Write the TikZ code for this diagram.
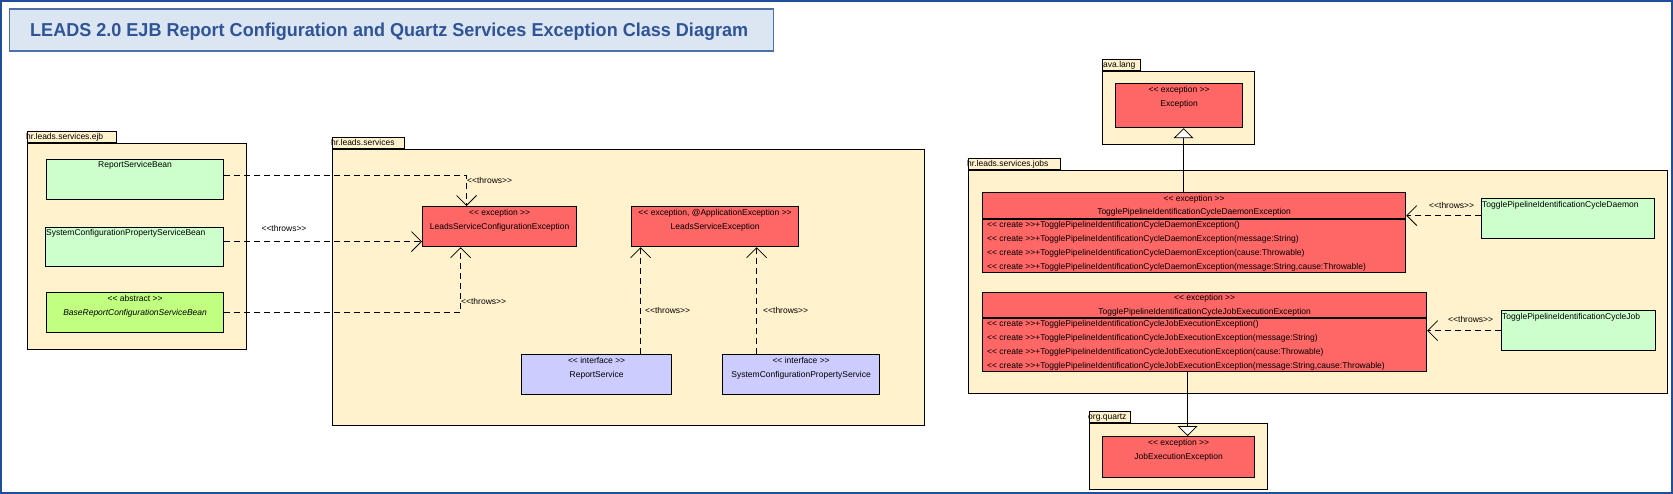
\documentclass[tikz,border=0pt]{standalone}
\usepackage{fontspec}
\setmainfont{Liberation Sans}[Ligatures=TeXOff]
\usepackage{graphicx}
\usepackage{tikz}
\usetikzlibrary{arrows.meta,positioning,calc}

\definecolor{pkgcol}{HTML}{FFF2CC}
\definecolor{exccol}{HTML}{FF6666}
\definecolor{beancol}{HTML}{CCFFCC}
\definecolor{abscol}{HTML}{C0FF80}
\definecolor{ifcol}{HTML}{CCCCFF}
\definecolor{titlefill}{HTML}{DCE6F2}
\definecolor{titledraw}{HTML}{4F6FA8}
\definecolor{titletext}{HTML}{2F5597}
\definecolor{framecol}{HTML}{1F4F99}

\tikzset{
  pkg/.style={draw, fill=pkgcol, line width=1.2pt, inner sep=0, anchor=north west},
  pkgtab/.style={draw, fill=pkgcol, line width=1.2pt, inner sep=0, anchor=south west, minimum height=11pt},
  cls/.style={draw, line width=1.2pt, inner sep=0, anchor=north west},
  txt/.style={inner sep=0, font=\fontsize{8.5}{10}\selectfont, text height=6pt, text depth=1.5pt},
  throws/.style={line width=1.2pt, dash pattern=on 6pt off 4pt,
    -{Straight Barb[length=10pt,width=20pt,line width=0.8pt]}},
  gen/.style={line width=1.2pt, -{Triangle[length=10pt,width=20pt,fill=white,line width=0.8pt]}}
}

\begin{document}
\begin{tikzpicture}[x=1pt, y=-1pt]
  \useasboundingbox (0,0) rectangle (1673,494);
  \draw[framecol, line width=2.4pt] (1.2,1.2) rectangle (1671.8,492.8);

  % title
  \node[draw=titledraw, fill=titlefill, line width=1.2pt, anchor=north west,
    minimum width=764pt, minimum height=42pt, inner sep=0] (title) at (8.5,8.5) {};
  \node[anchor=base west, inner sep=0, text=titletext, font=\bfseries\fontsize{18.7}{22}\selectfont]
    (titletxt) at (30,36.7)
    {\scalebox{0.965}[1]{LEADS 2.0 EJB Report Configuration and Quartz Services Exception Class Diagram}};

  % hr.leads.services.ejb
  \node[pkg, minimum width=219pt, minimum height=206pt] (ejb) at (27,143) {};
  \node[pkgtab, minimum width=89pt] (ejbtab) at (ejb.north west) {};
  \node[txt, anchor=west] (ejbname) at ($(ejbtab.west)+(-1,0)$) {hr.leads.services.ejb};

  \node[cls, fill=beancol, minimum width=177pt, minimum height=40pt] (rsb) at (46,159) {};
  \node[txt] (rsbname) at ($(rsb.north)+(0,6)$) {ReportServiceBean};
  \node[cls, fill=beancol, minimum width=178pt, minimum height=39pt] (scpsb) at (45,227) {};
  \node[txt, anchor=west] (scpsbname) at ($(scpsb.north west)+(1,6)$) {SystemConfigurationPropertyServiceBean};
  \node[cls, fill=abscol, minimum width=177pt, minimum height=40pt] (babs) at (46,292) {};
  \node[txt] (babsst) at ($(babs.north)+(0,7)$) {<< abstract >>};
  \node[txt, font=\fontsize{8.5}{10}\selectfont\itshape] (babsname) at ($(babs.north)+(0,21)$) {BaseReportConfigurationServiceBean};

  % hr.leads.services
  \node[pkg, minimum width=592pt, minimum height=276pt] (svc) at (332,149) {};
  \node[pkgtab, minimum width=72pt] (svctab) at (svc.north west) {};
  \node[txt, anchor=west] (svcname) at ($(svctab.west)+(-1,0)$) {hr.leads.services};

  \node[cls, fill=exccol, minimum width=154pt, minimum height=40pt] (lsce) at (422,206) {};
  \node[txt] (lscest) at ($(lsce.north)+(0,7)$) {<< exception >>};
  \node[txt] (lscename) at ($(lsce.north)+(0,21)$) {LeadsServiceConfigurationException};
  \node[cls, fill=exccol, minimum width=167pt, minimum height=40pt] (lse) at (631,206) {};
  \node[txt] (lsest) at ($(lse.north)+(0,7)$) {<< exception, @ApplicationException >>};
  \node[txt] (lsename) at ($(lse.north)+(0,21)$) {LeadsServiceException};
  \node[cls, fill=ifcol, minimum width=150pt, minimum height=40pt] (rs) at (521,354) {};
  \node[txt] (rsst) at ($(rs.north)+(0,7)$) {<< interface >>};
  \node[txt] (rsname) at ($(rs.north)+(0,21)$) {ReportService};
  \node[cls, fill=ifcol, minimum width=157pt, minimum height=40pt] (scps) at (722,354) {};
  \node[txt] (scpsst) at ($(scps.north)+(0,7)$) {<< interface >>};
  \node[txt] (scpsname) at ($(scps.north)+(0,21)$) {SystemConfigurationPropertyService};

  % java.lang
  \node[pkg, minimum width=152pt, minimum height=73pt] (jl) at (1102,71) {};
  \node[pkgtab, minimum width=38pt] (jltab) at (jl.north west) {};
  \node[txt, anchor=west] (jlname) at ($(jltab.west)+(1,0)$) {ava.lang};
  \node[cls, fill=exccol, minimum width=127pt, minimum height=44pt] (exc) at (1115,83) {};
  \node[txt] (excst) at ($(exc.north)+(0,7)$) {<< exception >>};
  \node[txt] (excname) at ($(exc.north)+(0,21)$) {Exception};

  % hr.leads.services.jobs
  \node[pkg, minimum width=699pt, minimum height=223pt] (jobs) at (968,170) {};
  \node[pkgtab, minimum width=92pt] (jobstab) at (jobs.north west) {};
  \node[txt, anchor=west] (jobsname) at ($(jobstab.west)+(-1,0)$) {hr.leads.services.jobs};

  \node[cls, fill=exccol, minimum width=423pt, minimum height=80pt] (tde) at (982,192) {};
  \draw[line width=1.2pt] ($(tde.north west)+(0,27)$) -- ($(tde.north east)+(0,27)$);
  \node[txt] (tdest) at ($(tde.north)+(0,7)$) {<< exception >>};
  \node[txt] (tdename) at ($(tde.north)+(0,20)$) {TogglePipelineIdentificationCycleDaemonException};
  \node[txt, anchor=west] (tdeop1) at ($(tde.north west)+(5,33)$) {<< create >>+TogglePipelineIdentificationCycleDaemonException()};
  \node[txt, anchor=west] (tdeop2) at ($(tde.north west)+(5,47)$) {<< create >>+TogglePipelineIdentificationCycleDaemonException(message:String)};
  \node[txt, anchor=west] (tdeop3) at ($(tde.north west)+(5,61)$) {<< create >>+TogglePipelineIdentificationCycleDaemonException(cause:Throwable)};
  \node[txt, anchor=west] (tdeop4) at ($(tde.north west)+(5,75)$) {<< create >>+TogglePipelineIdentificationCycleDaemonException(message:String,cause:Throwable)};

  \node[cls, fill=exccol, minimum width=444pt, minimum height=79pt] (tje) at (982,292) {};
  \draw[line width=1.2pt] ($(tje.north west)+(0,26)$) -- ($(tje.north east)+(0,26)$);
  \node[txt] (tjest) at ($(tje.north)+(0,6)$) {<< exception >>};
  \node[txt] (tjename) at ($(tje.north)+(0,20)$) {TogglePipelineIdentificationCycleJobExecutionException};
  \node[txt, anchor=west] (tjeop1) at ($(tje.north west)+(5,32)$) {<< create >>+TogglePipelineIdentificationCycleJobExecutionException()};
  \node[txt, anchor=west] (tjeop2) at ($(tje.north west)+(5,46)$) {<< create >>+TogglePipelineIdentificationCycleJobExecutionException(message:String)};
  \node[txt, anchor=west] (tjeop3) at ($(tje.north west)+(5,60)$) {<< create >>+TogglePipelineIdentificationCycleJobExecutionException(cause:Throwable)};
  \node[txt, anchor=west] (tjeop4) at ($(tje.north west)+(5,74)$) {<< create >>+TogglePipelineIdentificationCycleJobExecutionException(message:String,cause:Throwable)};

  \node[cls, fill=beancol, minimum width=173pt, minimum height=40pt] (tpd) at (1481,198) {};
  \node[txt, anchor=west] (tpdname) at ($(tpd.north west)+(1,7)$) {TogglePipelineIdentificationCycleDaemon};
  \node[cls, fill=beancol, minimum width=154pt, minimum height=40pt] (tpj) at (1501,310) {};
  \node[txt, anchor=west] (tpjname) at ($(tpj.north west)+(1,7)$) {TogglePipelineIdentificationCycleJob};

  % org.quartz
  \node[pkg, minimum width=178pt, minimum height=66pt] (oq) at (1089,423) {};
  \node[pkgtab, minimum width=41pt] (oqtab) at (oq.north west) {};
  \node[txt, anchor=west] (oqname) at ($(oqtab.west)+(-1,0)$) {org.quartz};
  \node[cls, fill=exccol, minimum width=152pt, minimum height=41pt] (jee) at (1102,436) {};
  \node[txt] (jeest) at ($(jee.north)+(0,7)$) {<< exception >>};
  \node[txt] (jeename) at ($(jee.north)+(0,21)$) {JobExecutionException};

  % throws dependencies
  \draw[throws] ([yshift=4pt]rsb.east) -| ([xshift=-33pt]lsce.north);
  \node[txt, anchor=west] (thr1) at (467,181) {<<throws>>};
  \coordinate (t2) at ([yshift=5.5pt]scpsb.east);
  \draw[throws] (t2) -- (t2 -| lsce.west);
  \node[txt] (thr2) at (284,229) {<<throws>>};
  \draw[throws] (babs.east) -| ([xshift=-39pt]lsce.south);
  \node[txt, anchor=west] (thr3) at (461,302) {<<throws>>};
  \coordinate (t4) at ([xshift=44pt]rs.north);
  \draw[throws] (t4) -- (t4 |- lse.south);
  \node[txt, anchor=west] (thr4) at (645,311) {<<throws>>};
  \coordinate (t5) at ([xshift=-44.5pt]scps.north);
  \draw[throws] (t5) -- (t5 |- lse.south);
  \node[txt, anchor=west] (thr5) at (763,311) {<<throws>>};
  \coordinate (t6) at ([yshift=3pt]tpd.west);
  \draw[throws] (t6) -- (t6 -| tde.east);
  \node[txt, anchor=west] (thr6) at (1429,206) {<<throws>>};
  \draw[throws] (tpj.west) -- (tpj.west -| tje.east);
  \node[txt, anchor=west] (thr7) at (1448,320) {<<throws>>};

  % generalizations
  \coordinate (g1) at ([xshift=-10.5pt]tde.north);
  \draw[gen] (g1) -- (g1 |- exc.south);
  \coordinate (g2) at ([xshift=-17pt]tje.south);
  \draw[gen] (g2) -- (g2 |- jee.north);
\end{tikzpicture}
\end{document}
